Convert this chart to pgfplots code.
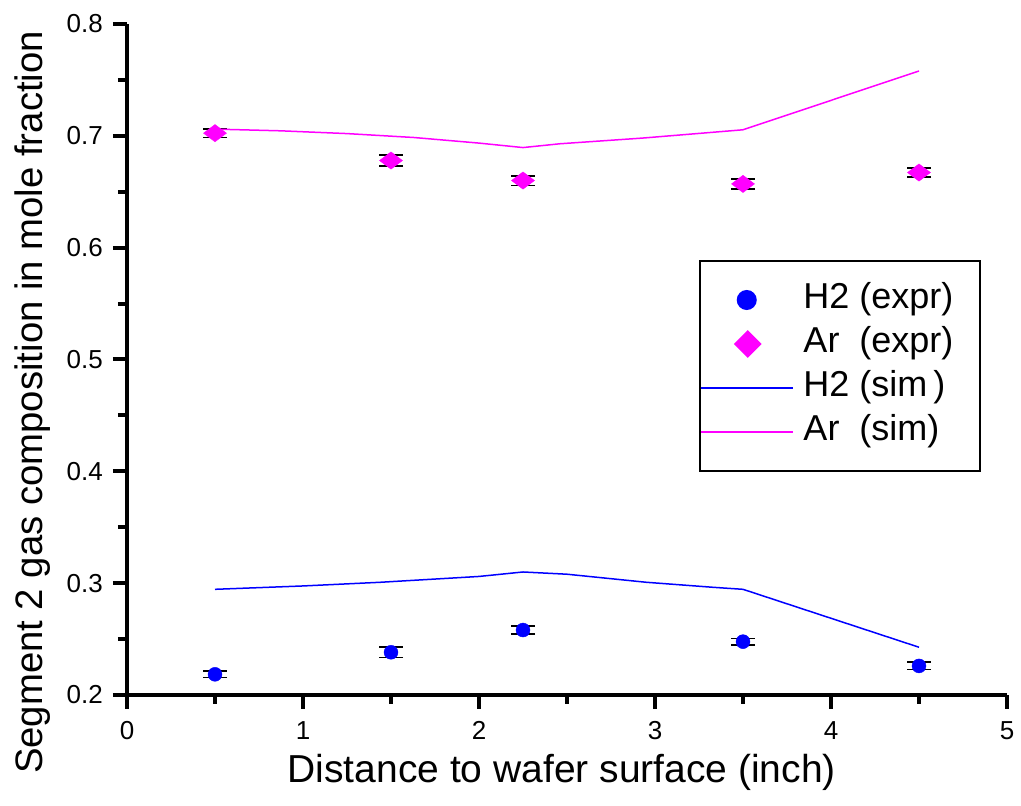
\documentclass[border=0pt]{standalone}
\usepackage{fontspec}
\setmainfont{Liberation Sans}
\usepackage{pgfplots}
\pgfplotsset{compat=1.18}
\definecolor{cblue}{RGB}{0,0,255}
\definecolor{cmag}{RGB}{255,0,255}
\pgfplotstableread{
x y e
0.5 0.2185 0.0030
1.5 0.2382 0.0045
2.25 0.2581 0.0036
3.5 0.2477 0.0030
4.5 0.2260 0.0033
}\htwoexpr
\pgfplotstableread{
x y e
0.5 0.7024 0.0038
1.5 0.6779 0.0048
2.25 0.6600 0.0043
3.5 0.6570 0.0045
4.5 0.6672 0.0039
}\arexpr
\begin{document}
\begin{tikzpicture}
\useasboundingbox (0,0) rectangle (1021pt,806pt);
\begin{axis}[
  at={(127pt,111pt)}, anchor=south west,
  width=880pt, height=671pt, scale only axis,
  xmin=0, xmax=5, ymin=0.2, ymax=0.8,
  axis x line*=bottom, axis y line*=left,
  axis line style={line width=4pt, draw=black},
  xtick={0,1,2,3,4,5},
  minor xtick={0.5,1.5,2.5,3.5,4.5},
  ytick={0.2,0.3,0.4,0.5,0.6,0.7,0.8},
  minor ytick={0.25,0.35,0.45,0.55,0.65,0.75},
  tick align=outside,
  major tick length=14pt, minor tick length=9pt,
  tick style={draw=black, line width=4pt},
  /pgf/number format/assume math mode=true,
  yticklabel style={/pgf/number format/fixed, /pgf/number format/precision=1, /pgf/number format/fixed zerofill, font=\fontsize{26}{30}\selectfont, inner sep=0pt, anchor=east, xshift=-10pt},
  xticklabel style={font=\fontsize{26}{30}\selectfont, inner sep=0pt, anchor=north, yshift=-12pt},
  xlabel={Distance to wafer surface (inch)},
  ylabel={Segment 2 gas composition in mole fraction},
  xlabel style={font=\fontsize{39}{46}\selectfont, at={(axis description cs:0.494,-0.131)}, anchor=base, inner sep=0pt},
  ylabel style={font=\fontsize{38.3}{45}\selectfont, at={(axis description cs:-0.0955,0.436)}, anchor=base, inner sep=0pt},
  legend cell align=left,
  legend style={at={(axis description cs:0.65,0.6483)}, anchor=north west,
    draw=black, line width=2pt, inner xsep=0pt, inner ysep=17pt,
    font=\fontsize{36}{40}\selectfont, column sep=10pt,
    nodes={inner sep=0pt, text height=28pt, text depth=10pt, inner ysep=3pt}},
]
\addplot[only marks, mark=*, mark size=7pt, color=cblue,
  legend image code/.code={\path[draw=none] (0pt,0pt) -- (92pt,0pt); \path[draw=none] plot[mark=*, mark size=9pt, mark options={draw=cblue, fill=cblue}] coordinates {(46pt,0pt)};}]
  table[x=x,y=y] {\htwoexpr};
\addlegendentry{H2 (expr)\hspace*{26pt}}
\addplot[only marks, mark=diamond*, mark size=11.5pt, color=cmag, mark options={rotate=90},
  legend image code/.code={\path[draw=none] (0pt,0pt) -- (92pt,0pt); \path[draw=none] plot[mark=square*, mark size=8.8pt, mark options={draw=cmag, fill=cmag, rotate=45}] coordinates {(47pt,0pt)};}]
  table[x=x,y=y] {\arexpr};
\addlegendentry{Ar\ \ (expr)\hspace*{26pt}}
\addplot[forget plot, draw=none, mark=none, error bars/.cd, y dir=both, y explicit,
  error bar style={black, line width=1.5pt},
  error mark options={black, mark size=12pt, line width=1.5pt, rotate=90}]
  table[x=x,y=y,y error=e] {\htwoexpr};
\addplot[forget plot, draw=none, mark=none, error bars/.cd, y dir=both, y explicit,
  error bar style={black, line width=1.5pt},
  error mark options={black, mark size=12pt, line width=1.5pt, rotate=90}]
  table[x=x,y=y,y error=e] {\arexpr};
\addplot[color=cblue, line width=1.5pt, mark=none,
  legend image code/.code={\draw[draw=cblue, line width=1.5pt] (0pt,0pt) -- (92pt,0pt);}]
  coordinates {(0.5,0.2945) (1.0,0.2975) (1.44,0.3008) (2.0,0.3060) (2.25,0.3100) (2.5,0.3080) (2.95,0.3008) (3.33,0.2963) (3.5,0.2945) (4.5,0.2427)};
\addlegendentry{H2 (sim\,)}
\addplot[color=cmag, line width=1.5pt, mark=none,
  legend image code/.code={\draw[draw=cmag, line width=1.5pt] (0pt,0pt) -- (92pt,0pt);}]
  coordinates {(0.5,0.7060) (0.87,0.7045) (1.25,0.7020) (1.63,0.6985) (2.0,0.6935) (2.25,0.6895) (2.46,0.6929) (2.93,0.6980) (3.5,0.7054) (4.5,0.7580)};
\addlegendentry{Ar\ \ (sim)}
\end{axis}
\end{tikzpicture}
\end{document}
